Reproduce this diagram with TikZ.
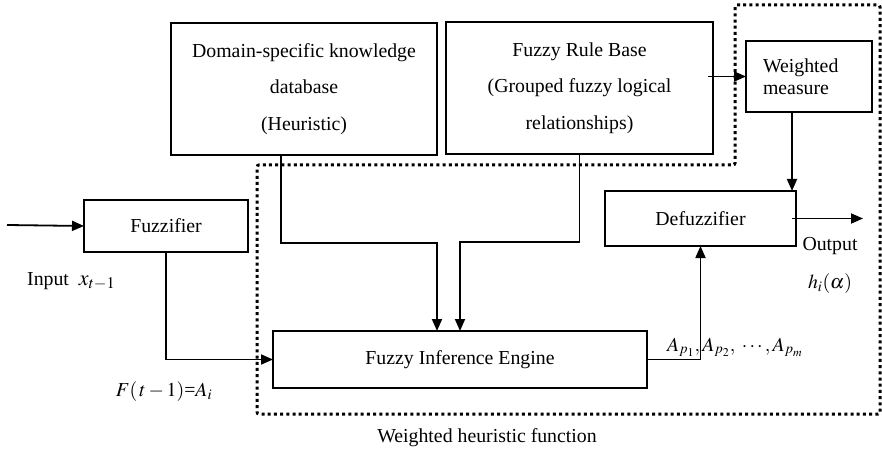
\documentclass[tikz,border=0pt]{standalone}
\usepackage{mathptmx}
\usepackage[no-math]{fontspec}
\setmainfont{Liberation Serif}
\usetikzlibrary{arrows.meta,calc}

\begin{document}
\begin{tikzpicture}[x=1pt,y=-1pt,
  every node/.style={font=\fontsize{19.8}{24}\selectfont},
  blk/.style={draw,line width=1.8pt,rectangle,inner sep=0pt,outer sep=0pt,anchor=north west},
  tall/.style={align=center,font=\fontsize{19.8}{36.5}\selectfont},
  wire/.style={line width=1.8pt},
  arr/.style={wire,-{Triangle[length=12pt,width=10pt]}},
  frame/.style={line width=3pt,dash pattern=on 3pt off 3.2pt},
  lbl/.style={inner sep=0pt}]
\useasboundingbox (0,0) rectangle (882,454);

% dotted boundary of the weighted heuristic function
\draw[frame,rounded corners=2pt] (735,5) -- (880,5) -- (880,414) -- (257,414)
  -- (257,165) -- (735,165) -- cycle;

% blocks
\node[blk,tall,minimum width=266pt,minimum height=132pt] (dom) at (171,23)
  {Domain-specific knowledge\\database\\(Heuristic)};
\node[blk,tall,minimum width=267pt,minimum height=132pt] (rule) at (446,22)
  {Fuzzy Rule Base\\(Grouped fuzzy logical\\relationships)};
\node[blk,minimum width=126pt,minimum height=71pt,inner xsep=17pt,text width=92pt,
  align=left,font=\fontsize{19.8}{22}\selectfont] (wm) at (746,41) {Weighted\\measure};
\node[blk,minimum width=164pt,minimum height=52pt] (fuz) at (84,200) {Fuzzifier};
\node[blk,minimum width=191pt,minimum height=55pt] (def) at (605,191) {Defuzzifier};
\node[blk,minimum width=374pt,minimum height=57pt] (inf) at (273,331) {Fuzzy Inference Engine};

% labels
\node[lbl,anchor=west] (inlbl) at (27,281) {Input\enspace{\fontsize{22}{24}\selectfont$x_{t-1}$}};
\node[lbl] (flbl) at (164,392) {$F(\,t-1)$=$A_i$};
\node[lbl] (outlbl) at (830,246) {Output};
\node[lbl] (hlbl) at (830,284) {$h_i(\alpha)$};
\node[lbl,anchor=base west] (aplbl) at (667,351) {$A_{p_1},A_{p_2},\;\cdots,A_{p_m}$};
\node[lbl] (title) at (487,438) {Weighted heuristic function};

% connectors
\coordinate (inp) at (7,225);
\coordinate (outp) at (863,218.5);
\draw[arr] (inp) -- (fuz.west);
\draw[arr] (fuz.south) |- (inf.west);
\draw[arr] ([xshift=-23pt]dom.south) -- ++(0,88) -| ([xshift=-23pt]inf.north);
\draw[arr] (rule.south) -- ++(0,88) -| (inf.north);
\draw[arr] ([xshift=-5pt]rule.east |- wm.west) -- (wm.west);
\draw[arr] ([xshift=-17pt]wm.south) -- ([xshift=-17pt]wm.south |- def.north);
\draw[arr] ([xshift=-4pt]def.east) -- (outp);
\draw[arr] (inf.east) -| (def.south);
\end{tikzpicture}
\end{document}
